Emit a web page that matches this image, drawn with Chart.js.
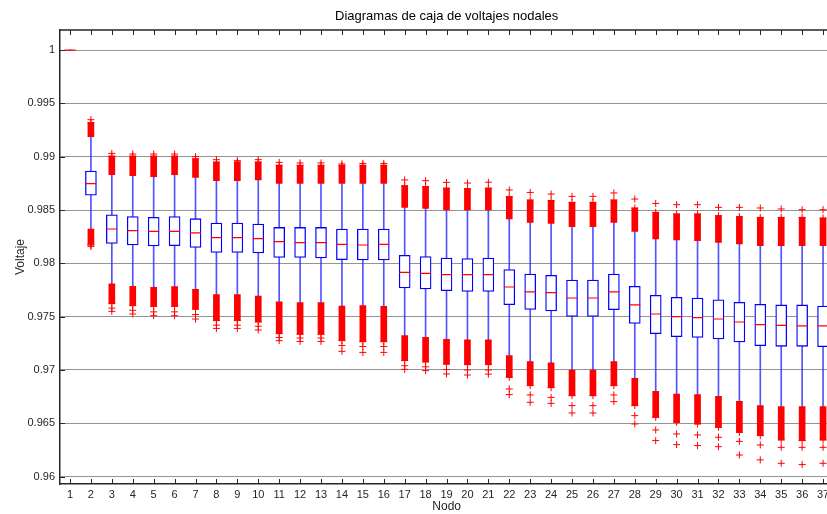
<!DOCTYPE html>
<html>
<head>
<meta charset="utf-8">
<script src="https://cdn.jsdelivr.net/npm/chart.js@4.4.0/dist/chart.umd.min.js"></script>
<style>
  html, body { margin: 0; padding: 0; background: #fff; overflow: hidden; }
</style>
</head>
<body>
<canvas id="chart" width="840" height="514"></canvas>
<script>
// node numbers and y tick labels
const nodes = [1,2,3,4,5,6,7,8,9,10,11,12,13,14,15,16,17,18,19,20,21,22,23,24,25,26,27,28,29,30,31,32,33,34,35,36,37];
const yTicks = [0.96, 0.965, 0.97, 0.975, 0.98, 0.985, 0.99, 0.995, 1];

// box statistics per node
const q3 = [1,0.98866,0.98456,0.98438,0.98431,0.98438,0.98419,0.98378,0.98378,0.98369,0.98337,0.98337,0.98337,0.98322,0.98322,0.98322,0.98075,0.98063,0.98050,0.98044,0.98050,0.97941,0.97900,0.97887,0.97844,0.97844,0.97900,0.97784,0.97700,0.97681,0.97675,0.97659,0.97634,0.97615,0.97610,0.97610,0.97600];
const median = [1,0.98747,0.98322,0.98306,0.98300,0.98300,0.98285,0.98241,0.98241,0.98231,0.98203,0.98194,0.98194,0.98178,0.98172,0.98178,0.97915,0.97906,0.97894,0.97894,0.97894,0.97778,0.97732,0.97725,0.97675,0.97675,0.97732,0.97610,0.97525,0.97500,0.97491,0.97478,0.97450,0.97425,0.97418,0.97413,0.97413];
const q1 = [1,0.98639,0.98187,0.98172,0.98163,0.98166,0.98150,0.98103,0.98103,0.98097,0.98056,0.98056,0.98050,0.98034,0.98032,0.98032,0.97769,0.97760,0.97744,0.97737,0.97737,0.97613,0.97568,0.97553,0.97503,0.97503,0.97566,0.97437,0.97341,0.97313,0.97306,0.97291,0.97263,0.97228,0.97222,0.97222,0.97219];
const hiWhisk = [1,0.99188,0.98831,0.98822,0.98813,0.98831,0.98806,0.98775,0.98775,0.98782,0.98750,0.98750,0.98750,0.98750,0.98750,0.98750,0.98525,0.98515,0.98500,0.98500,0.98500,0.98416,0.98384,0.98375,0.98344,0.98344,0.98384,0.98300,0.98228,0.98219,0.98213,0.98197,0.98182,0.98166,0.98166,0.98166,0.98166];
const loWhisk = [1,0.98322,0.97807,0.97784,0.97775,0.97781,0.97756,0.97706,0.97706,0.97694,0.97638,0.97631,0.97631,0.97600,0.97603,0.97597,0.97322,0.97306,0.97287,0.97282,0.97282,0.97134,0.97078,0.97066,0.97000,0.97000,0.97078,0.96922,0.96800,0.96775,0.96769,0.96753,0.96706,0.96666,0.96656,0.96656,0.96656];

// outliers: dense band ends, sparse and extreme ones
const hiDense = [null,0.99320,0.99005,0.99005,0.99005,0.99005,0.98980,0.98950,0.98950,0.98950,0.98920,0.98920,0.98920,0.98920,0.98920,0.98920,0.98728,0.98720,0.98705,0.98700,0.98705,0.98625,0.98594,0.98590,0.98572,0.98572,0.98594,0.98519,0.98478,0.98463,0.98463,0.98447,0.98438,0.98431,0.98431,0.98431,0.98425];
const hiOut = [null,0.99347,0.99031,0.99025,0.99025,0.99025,0.99000,0.98972,0.98963,0.98972,0.98947,0.98941,0.98941,0.98932,0.98937,0.98937,0.98782,0.98775,0.98759,0.98753,0.98761,0.98688,0.98665,0.98650,0.98628,0.98628,0.98660,0.98603,0.98562,0.98550,0.98550,0.98525,0.98525,0.98519,0.98510,0.98503,0.98503];
const loDense = [null,0.98180,0.97622,0.97603,0.97595,0.97595,0.97570,0.97463,0.97463,0.97450,0.97341,0.97335,0.97335,0.97275,0.97265,0.97265,0.97088,0.97075,0.97055,0.97050,0.97050,0.96931,0.96853,0.96834,0.96759,0.96759,0.96853,0.96666,0.96556,0.96509,0.96494,0.96462,0.96415,0.96384,0.96344,0.96338,0.96344];
const loSparse = [null,0.98170,0.97580,0.97560,0.97545,0.97545,0.97520,0.97420,0.97420,0.97410,0.97305,0.97300,0.97300,0.97230,0.97220,0.97220,0.97040,0.97030,0.97005,0.97000,0.97000,0.96822,0.96766,0.96743,0.96666,0.96666,0.96766,0.96572,0.96438,0.96400,0.96391,0.96369,0.96331,0.96297,0.96275,0.96275,0.96275];
const loOut = [null,0.98159,0.97550,0.97525,0.97509,0.97509,0.97478,0.97390,0.97390,0.97375,0.97275,0.97268,0.97268,0.97175,0.97165,0.97165,0.97006,0.96994,0.96963,0.96953,0.96961,0.96769,0.96697,0.96687,0.96597,0.96597,0.96703,0.96494,0.96338,0.96300,0.96291,0.96281,0.96203,0.96157,0.96125,0.96113,0.96125];

const pts = arr => nodes.map((n, i) => arr[i] == null ? null : { x: n, y: arr[i] }).filter(Boolean);
const spans = (lo, hi) => nodes.map((n, i) => (lo[i] == null || hi[i] == null) ? null : { x: n, y: [lo[i], hi[i]] }).filter(Boolean);

const ink = '#262626';
const font = "'Liberation Sans', Arial, sans-serif";

// inward ticks, top frame line and the title
const frame = {
  id: 'frame',
  afterDraw(chart) {
    const { ctx, chartArea: a, scales: { x, y } } = chart;
    ctx.save();
    ctx.strokeStyle = ink;
    ctx.lineWidth = 1;
    ctx.beginPath();
    x.ticks.forEach(t => {
      const px = Math.round(x.getPixelForValue(t.value)) + 0.5;
      ctx.moveTo(px, a.bottom); ctx.lineTo(px, a.bottom - 5);
      ctx.moveTo(px, a.top); ctx.lineTo(px, a.top + 5);
    });
    y.ticks.forEach(t => {
      const py = Math.round(y.getPixelForValue(t.value)) + 0.5;
      ctx.moveTo(a.left, py); ctx.lineTo(a.left + 5, py);
      ctx.moveTo(a.right, py); ctx.lineTo(a.right - 5, py);
    });
    ctx.stroke();
    ctx.lineWidth = 1.5;
    ctx.beginPath();
    ctx.moveTo(a.left, a.top); ctx.lineTo(a.right, a.top);
    ctx.stroke();
    ctx.fillStyle = '#000';
    ctx.font = '13px ' + font;
    ctx.textAlign = 'center';
    ctx.textBaseline = 'middle';
    ctx.fillText('Diagramas de caja de voltajes nodales', (a.left + a.right) / 2, 16);
    ctx.restore();
  }
};

new Chart(document.getElementById('chart'), {
  type: 'scatter',
  data: {
    datasets: [
      { // outliers
        data: [...pts(hiOut), ...pts(hiDense), ...pts(loDense), ...pts(loSparse), ...pts(loOut)],
        pointStyle: 'cross', radius: 3.5, borderColor: '#ff0000', borderWidth: 1
      },
      { // medians
        data: pts(median),
        pointStyle: 'line', radius: 5.5, borderColor: '#ff0000', borderWidth: 1.2
      },
      { // boxes
        type: 'bar', data: spans(q1, q3), grouped: false, barThickness: 11,
        backgroundColor: '#ffffff', borderColor: '#0000ff', borderWidth: 1.3, borderSkipped: false
      },
      { // dense outlier bands
        type: 'bar', data: [...spans(hiWhisk, hiDense), ...spans(loDense, loWhisk)], grouped: false, barThickness: 6,
        backgroundColor: '#ff0000', borderWidth: 0
      },
      { // whiskers
        type: 'bar', data: [...spans(q3, hiWhisk), ...spans(loWhisk, q1)], grouped: false, barThickness: 1,
        backgroundColor: 'rgba(40,40,255,0.8)', borderWidth: 0
      }
    ]
  },
  options: {
    responsive: false,
    animation: false,
    events: [],
    layout: { padding: { top: 30, left: 0, right: 0, bottom: 0 } },
    plugins: { legend: { display: false }, tooltip: { enabled: false }, title: { display: false } },
    scales: {
      x: {
        type: 'linear', min: 0.522, max: 37.49, offset: false,
        afterFit: s => { s.height = 30; },
        afterBuildTicks: s => { s.ticks = nodes.map(v => ({ value: v })); },
        grid: { display: false, drawTicks: false, tickLength: 0 },
        border: { color: ink, width: 1.5 },
        ticks: { autoSkip: false, maxRotation: 0, padding: 4, color: ink, font: { family: font, size: 11 } },
        title: { display: true, text: 'Nodo', color: ink, font: { family: font, size: 12 }, padding: { top: 0, bottom: 0 } }
      },
      y: {
        min: 0.95931, max: 1.00188,
        afterFit: s => { s.width = 60; },
        afterBuildTicks: s => { s.ticks = yTicks.map(v => ({ value: v })); },
        grid: { color: 'rgba(0,0,0,0.42)', lineWidth: 1, drawTicks: false },
        border: { color: ink, width: 1.5 },
        ticks: { padding: 5, color: ink, font: { family: font, size: 11 }, callback: v => String(+v.toFixed(3)) },
        title: { display: true, text: 'Voltaje', color: ink, font: { family: font, size: 12 }, padding: { top: 13, bottom: 0 } }
      }
    }
  },
  plugins: [frame]
});
</script>
</body>
</html>
